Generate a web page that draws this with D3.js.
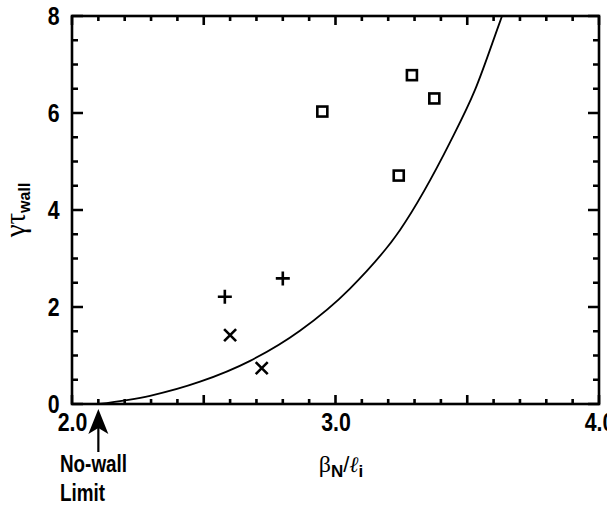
<!DOCTYPE html>
<html><head><meta charset="utf-8">
<script src="https://cdn.jsdelivr.net/npm/d3@7"></script>
<style>body{margin:0;background:#fff}svg{display:block}</style>
</head><body><svg id="c" width="607" height="508"></svg>
<script>
// ---- data ----
const xMajorTicks = [2.0, 2.5, 3.0, 3.5, 4.0];
const xMinorTicks = [2.1,2.2,2.3,2.4,2.6,2.7,2.8,2.9,3.1,3.2,3.3,3.4,3.6,3.7,3.8,3.9];
const xLabelTicks = [2.0, 3.0, 4.0];
const xTickLabels = ["2.0", "3.0", "4.0"];
const yMajorTicks = [0, 2, 4, 6, 8];
const yMinorTicks = [0.5,1,1.5,2.5,3,3.5,4.5,5,5.5,6.5,7,7.5];
const yTickLabels = ["0", "2", "4", "6", "8"];
const curveX = [2.10, 2.296, 2.486, 2.676, 2.865, 3.055, 3.245, 3.435, 3.529, 3.624, 3.632];
const curveY = [0.00, 0.17, 0.46, 0.89, 1.51, 2.38, 3.59, 5.40, 6.47, 7.88, 8.00];
const squareX = [2.95, 3.29, 3.375, 3.24];
const squareY = [6.03, 6.78, 6.30, 4.71];
const plusX = [2.58, 2.80];
const plusY = [2.21, 2.59];
const crossX = [2.60, 2.72];
const crossY = [1.42, 0.74];
const noWallLimitX = 2.1;

// ---- layout ----
const svg = d3.select("#c");
const L = 72, R = 599, T = 16, B = 404;
const x = d3.scaleLinear().domain([2, 4]).range([L, R]);
const y = d3.scaleLinear().domain([0, 8]).range([B, T]);
const SANS = "'Liberation Sans', Arial, Helvetica, sans-serif";
const SERIF = "'Liberation Serif', 'Times New Roman', serif";

// frame
svg.append("rect").attr("x",L).attr("y",T).attr("width",R-L).attr("height",B-T)
  .attr("fill","none").attr("stroke","#000").attr("stroke-width",2.6);

// ---- ticks (inward, on all four sides) ----
function xTickPath(vals, len){
  return vals.map(v => `M${x(v)},${B}V${B-len}M${x(v)},${T}V${T+len}`).join("");
}
function yTickPath(vals, len){
  return vals.map(v => `M${L},${y(v)}H${L+len}M${R},${y(v)}H${R-len}`).join("");
}
const tickD = xTickPath(xMinorTicks, 5) + xTickPath(xMajorTicks, 9)
            + yTickPath(yMinorTicks, 6) + yTickPath(yMajorTicks, 11);
svg.append("path").attr("d", tickD).attr("fill","none")
  .attr("stroke","#000").attr("stroke-width",2.6);

// ---- tick labels through d3 axes ----
function styleLabels(g){
  g.select(".domain").remove();
  g.selectAll("line").remove();
  g.selectAll("text").attr("font-family",SANS).attr("font-weight","bold")
   .attr("font-size",26).attr("fill","#000").attr("transform","scale(0.82,1)");
}
svg.append("g").attr("transform",`translate(0,${B})`)
  .call(d3.axisBottom(x).tickValues(xLabelTicks).tickSize(0).tickPadding(9)
    .tickFormat((d,i) => xTickLabels[i])).call(styleLabels);
svg.append("g").attr("transform",`translate(${L},0)`)
  .call(d3.axisLeft(y).tickValues(yMajorTicks).tickSize(0).tickPadding(15)
    .tickFormat((d,i) => yTickLabels[i])).call(styleLabels);

// curve
const curvePts = curveX.map((v,i)=>[v,curveY[i]]);
svg.append("path").datum(curvePts)
  .attr("d", d3.line().x(d=>x(d[0])).y(d=>Math.max(T, y(d[1]))).curve(d3.curveMonotoneX))
  .attr("fill","none").attr("stroke","#000").attr("stroke-width",1.8);

// squares
const sq = 10;
svg.selectAll(".sq").data(squareX.map((v,i)=>[v,squareY[i]])).join("rect").attr("class","sq")
  .attr("x",d=>x(d[0])-sq/2).attr("y",d=>y(d[1])-sq/2).attr("width",sq).attr("height",sq)
  .attr("fill","#fff").attr("stroke","#000").attr("stroke-width",2.6);

// plus
const pl = 7;
svg.selectAll(".pl").data(plusX.map((v,i)=>[v,plusY[i]])).join("path").attr("class","pl")
  .attr("d",d=>{const cx=x(d[0]),cy=y(d[1]);return `M${cx-pl},${cy}H${cx+pl}M${cx},${cy-pl}V${cy+pl}`;})
  .attr("stroke","#000").attr("stroke-width",2.6).attr("fill","none");

// cross
const cr = 6;
svg.selectAll(".cr").data(crossX.map((v,i)=>[v,crossY[i]])).join("path").attr("class","cr")
  .attr("d",d=>{const cx=x(d[0]),cy=y(d[1]);return `M${cx-cr},${cy-cr}L${cx+cr},${cy+cr}M${cx-cr},${cy+cr}L${cx+cr},${cy-cr}`;})
  .attr("stroke","#000").attr("stroke-width",2.6).attr("fill","none");

// no-wall limit arrow
const ax = x(noWallLimitX);
svg.append("line").attr("x1",ax).attr("x2",ax).attr("y1",428).attr("y2",452)
  .attr("stroke","#000").attr("stroke-width",2.2);
svg.append("path")
  .attr("d",`M${ax},409 L${ax+10},434 L${ax},428 L${ax-10},434 Z`)
  .attr("fill","#000");
const lim = svg.append("text").attr("font-family",SANS).attr("font-weight","bold")
  .attr("font-size",23).attr("fill","#000").attr("transform","translate(60,0) scale(0.82,1)");
lim.append("tspan").attr("x",0).attr("y",472).text("No-wall");
lim.append("tspan").attr("x",0).attr("y",501).text("Limit");

// x-axis title
const xt = svg.append("text").attr("text-anchor","middle").attr("fill","#000")
  .attr("transform","translate(341,472)");
xt.append("tspan").attr("font-family",SERIF).attr("font-size",24).text("β");
xt.append("tspan").attr("font-family",SANS).attr("font-weight","bold").attr("font-size",17).attr("dy",5).text("N");
xt.append("tspan").attr("font-family",SANS).attr("font-size",22).attr("dy",-5).text("/");
xt.append("tspan").attr("font-family",SERIF).attr("font-style","italic").attr("font-size",22).text("ℓ");
xt.append("tspan").attr("font-family",SANS).attr("font-weight","bold").attr("font-size",17).attr("dy",5).text("i");

// y-axis title
const yt = svg.append("text").attr("text-anchor","middle").attr("fill","#000")
  .attr("transform","translate(25,210) rotate(-90)");
yt.append("tspan").attr("font-family",SERIF).attr("font-size",29).text("γτ");
yt.append("tspan").attr("font-family",SANS).attr("font-weight","bold").attr("font-size",16).attr("dy",5).text("wall");
</script></body></html>
